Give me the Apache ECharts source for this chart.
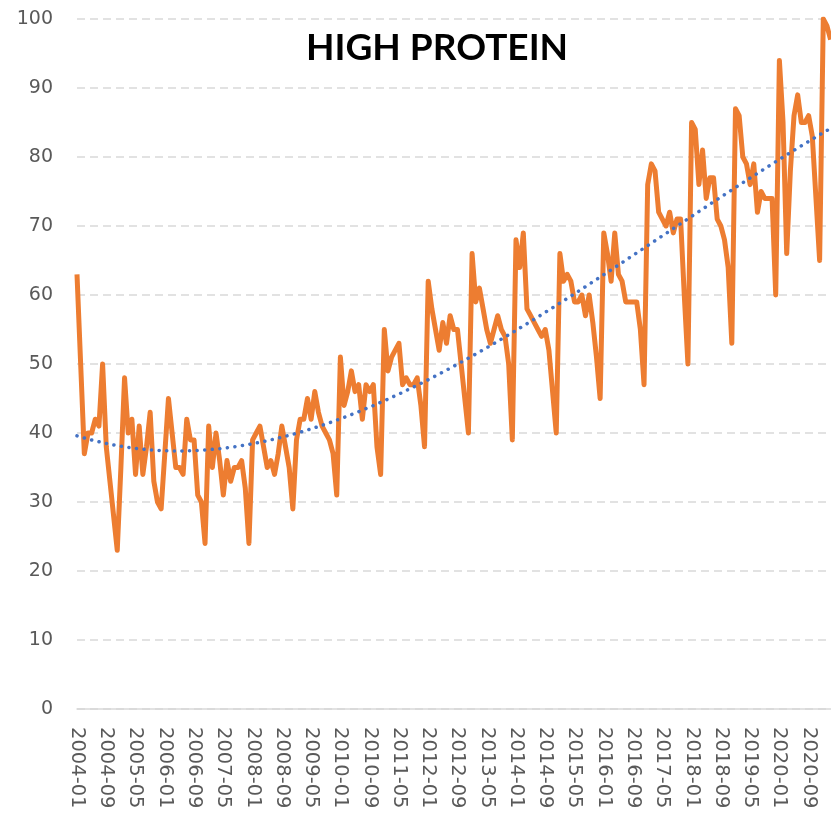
<!DOCTYPE html>
<html>
<head>
<meta charset="utf-8">
<title>High protein</title>
<script src="https://cdn.jsdelivr.net/npm/echarts@6/dist/echarts.min.js"></script>
<style>
  html, body { margin: 0; padding: 0; background: #fff; }
  #chart { width: 831px; height: 822px; }
</style>
</head>
<body>
<div id="chart"></div>
<script>
// monthly search interest, 2004-01 .. 2021-03 (one row per year)
const interest = [
  63, 50, 37, 40, 40, 42, 41, 50, 38, 33, 28, 23,
  35, 48, 40, 42, 34, 41, 34, 38, 43, 33, 30, 29,
  37, 45, 40, 35, 35, 34, 42, 39, 39, 31, 30, 24,
  41, 35, 40, 36, 31, 36, 33, 35, 35, 36, 32, 24,
  39, 40, 41, 38, 35, 36, 34, 37, 41, 38, 35, 29,
  39, 42, 42, 45, 42, 46, 43, 41, 40, 39, 37, 31,
  51, 44, 46, 49, 46, 47, 42, 47, 46, 47, 38, 34,
  55, 49, 51, 52, 53, 47, 48, 47, 47, 48, 44, 38,
  62, 58, 55, 52, 56, 53, 57, 55, 55, 50, 45, 40,
  66, 59, 61, 58, 55, 53, 55, 57, 55, 54, 50, 39,
  68, 64, 69, 58, 57, 56, 55, 54, 55, 52, 46, 40,
  66, 62, 63, 62, 59, 59, 60, 57, 60, 56, 51, 45,
  69, 66, 62, 69, 63, 62, 59, 59, 59, 59, 55, 47,
  76, 79, 78, 72, 71, 70, 72, 69, 71, 71, 60, 50,
  85, 84, 76, 81, 74, 77, 77, 71, 70, 68, 64, 53,
  87, 86, 80, 79, 76, 79, 72, 75, 74, 74, 74, 60,
  94, 85, 66, 78, 86, 89, 85, 85, 86, 83, 74, 65,
  100, 99, 97
];
const startYear = 2004;
const yTicks = [0, 10, 20, 30, 40, 50, 60, 70, 80, 90, 100];

const months = interest.map((v, i) => {
  const y = startYear + Math.floor(i / 12);
  const m = (i % 12) + 1;
  return y + '-' + (m < 10 ? '0' + m : m);
});

// polynomial (order 3) least squares trendline, like the spreadsheet one
function polyTrend(ys, order) {
  const n = ys.length, m = order + 1;
  const A = [];
  for (let r = 0; r < m; r++) A.push(new Array(m + 1).fill(0));
  ys.forEach((y, i) => {
    const t = i / (n - 1);
    for (let r = 0; r < m; r++) {
      for (let c = 0; c < m; c++) A[r][c] += Math.pow(t, r + c);
      A[r][m] += y * Math.pow(t, r);
    }
  });
  for (let k = 0; k < m; k++) {
    let p = k;
    for (let r = k + 1; r < m; r++) if (Math.abs(A[r][k]) > Math.abs(A[p][k])) p = r;
    const tmp = A[k]; A[k] = A[p]; A[p] = tmp;
    for (let r = k + 1; r < m; r++) {
      const f = A[r][k] / A[k][k];
      for (let c = k; c <= m; c++) A[r][c] -= f * A[k][c];
    }
  }
  const coef = new Array(m).fill(0);
  for (let k = m - 1; k >= 0; k--) {
    let s = A[k][m];
    for (let c = k + 1; c < m; c++) s -= A[k][c] * coef[c];
    coef[k] = s / A[k][k];
  }
  return ys.map((_, i) => {
    const t = i / (n - 1);
    let s = 0;
    for (let k = 0; k < m; k++) s += coef[k] * Math.pow(t, k);
    return +s.toFixed(2);
  });
}

const chart = echarts.init(document.getElementById('chart'));
const labelFont = 'DejaVu Sans';

chart.setOption({
  animation: false,
  title: {
    text: 'HIGH PROTEIN',
    left: 301,
    top: 25,
    textStyle: {
      fontFamily: 'Lato',
      fontWeight: 'bold',
      fontSize: 37,
      color: '#000'
    }
  },
  grid: {
    left: 77,
    right: 0.4,
    top: 19,
    bottom: 113
  },
  xAxis: {
    type: 'category',
    data: months,
    boundaryGap: false,
    axisTick: { show: false },
    axisLine: { lineStyle: { color: '#d9d9d9', width: 1.5 } },
    axisLabel: {
      interval: 7,
      rotate: -90,
      margin: 18,
      color: '#595959',
      fontFamily: labelFont,
      fontSize: 19.5
    }
  },
  yAxis: {
    type: 'value',
    min: yTicks[0],
    max: yTicks[yTicks.length - 1],
    interval: 10,
    axisLine: { show: false },
    axisTick: { show: false },
    axisLabel: {
      margin: 24,
      color: '#595959',
      fontFamily: labelFont,
      fontSize: 19
    },
    splitLine: {
      lineStyle: { color: '#d9d9d9', width: 1.5, type: [8, 5] }
    }
  },
  series: [
    {
      name: 'high protein',
      type: 'line',
      data: interest,
      symbol: 'none',
      lineStyle: { color: '#ed7d31', width: 5, join: 'round' }
    },
    {
      name: 'trend',
      type: 'line',
      data: polyTrend(interest, 3),
      symbol: 'none',
      lineStyle: { color: '#4472c4', width: 3.5, type: [0.1, 7.5], cap: 'round' }
    }
  ]
});
</script>
</body>
</html>
